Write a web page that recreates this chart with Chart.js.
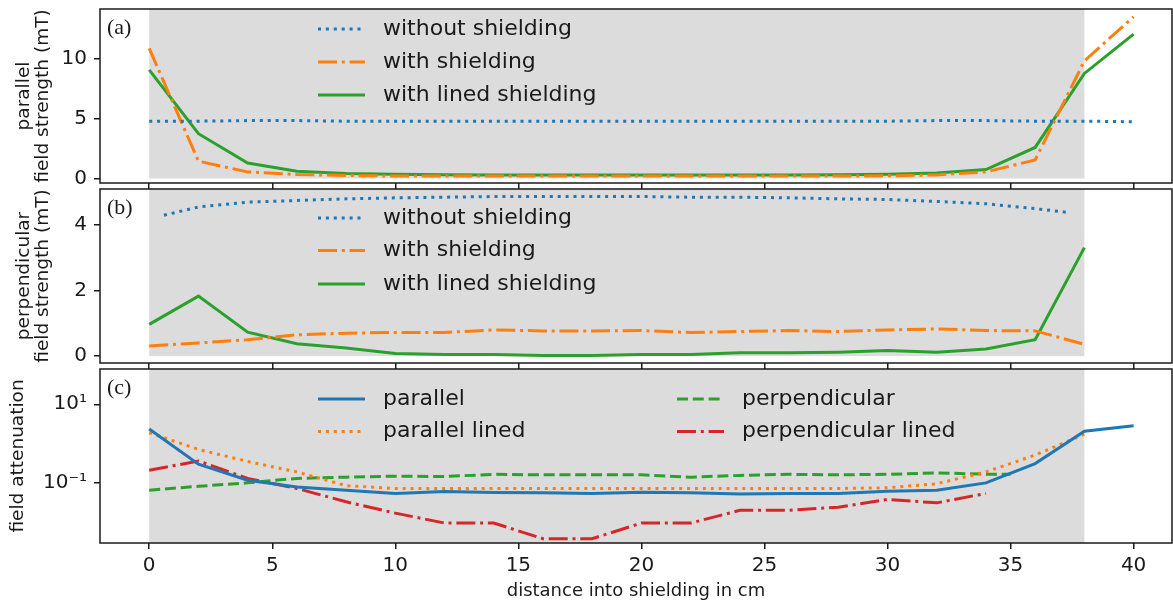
<!DOCTYPE html>
<html>
<head>
<meta charset="utf-8">
<script src="https://cdn.jsdelivr.net/npm/chart.js@4"></script>
<style>
body { margin: 0; background: #fff; }
#wrap { position: relative; width: 1173px; height: 606px; }
canvas { position: absolute; left: 0; }
</style>
</head>
<body>
<div id="wrap">
  <canvas id="panelA" width="1173" height="190" style="top:0px"></canvas>
  <canvas id="panelB" width="1173" height="190" style="top:180px"></canvas>
  <canvas id="panelC" width="1173" height="246" style="top:360px"></canvas>
</div>
<script>
// distance into shielding (cm)
const xEven = [0, 2, 4, 6, 8, 10, 12, 14, 16, 18, 20, 22, 24, 26, 28, 30, 32, 34, 36, 38, 40];
const xTo38 = [0, 2, 4, 6, 8, 10, 12, 14, 16, 18, 20, 22, 24, 26, 28, 30, 32, 34, 36, 38];
const xTo34 = [0, 2, 4, 6, 8, 10, 12, 14, 16, 18, 20, 22, 24, 26, 28, 30, 32, 34];
const xPerpNoShield = [0.6, 2, 4, 6, 8, 10, 12, 14, 16, 18, 20, 22, 24, 26, 28, 30, 32, 34, 36, 37.4];
const xPerpAtt = [0, 2, 4, 6, 8, 10, 12, 14, 16, 18, 20, 22, 24, 26, 28, 30, 32, 34, 35];
const xTicks = [0, 5, 10, 15, 20, 25, 30, 35, 40];

// (a) parallel field strength (mT)
const parWithout = [4.8, 4.8, 4.85, 4.85, 4.8, 4.8, 4.8, 4.8, 4.8, 4.8, 4.8, 4.8, 4.8, 4.8, 4.8, 4.8, 4.85, 4.85, 4.8, 4.8, 4.75];
const parWith = [10.9, 1.45, 0.55, 0.33, 0.25, 0.2, 0.2, 0.2, 0.2, 0.2, 0.2, 0.2, 0.2, 0.2, 0.2, 0.22, 0.3, 0.55, 1.55, 9.85, 13.55];
const parLined = [9.1, 3.75, 1.3, 0.6, 0.42, 0.35, 0.32, 0.3, 0.3, 0.3, 0.3, 0.3, 0.3, 0.3, 0.32, 0.35, 0.45, 0.75, 2.6, 8.8, 12.1];

// (b) perpendicular field strength (mT)
const perpWithout = [4.3, 4.55, 4.7, 4.75, 4.8, 4.83, 4.85, 4.87, 4.87, 4.87, 4.87, 4.85, 4.85, 4.83, 4.8, 4.78, 4.72, 4.65, 4.5, 4.38];
const perpWith = [0.31, 0.4, 0.5, 0.65, 0.7, 0.72, 0.72, 0.8, 0.77, 0.77, 0.78, 0.72, 0.75, 0.78, 0.75, 0.8, 0.83, 0.78, 0.77, 0.36];
const perpLined = [0.97, 1.83, 0.73, 0.38, 0.25, 0.08, 0.05, 0.05, 0.02, 0.02, 0.05, 0.05, 0.1, 0.1, 0.12, 0.17, 0.12, 0.22, 0.5, 3.31];

// (c) field attenuation
const attPar = [2.35, 0.3, 0.117, 0.079, 0.065, 0.054, 0.06, 0.057, 0.056, 0.054, 0.058, 0.056, 0.052, 0.054, 0.054, 0.061, 0.065, 0.1, 0.31, 2.05, 2.85];
const attParLined = [1.89, 0.71, 0.35, 0.19, 0.085, 0.072, 0.072, 0.072, 0.072, 0.072, 0.072, 0.072, 0.072, 0.072, 0.072, 0.075, 0.095, 0.19, 0.51, 1.74];
const attPerp = [0.065, 0.082, 0.1, 0.13, 0.14, 0.148, 0.145, 0.165, 0.16, 0.16, 0.16, 0.14, 0.155, 0.165, 0.16, 0.165, 0.18, 0.166, 0.166];
const attPerpLined = [0.21, 0.36, 0.13, 0.072, 0.033, 0.017, 0.0095, 0.0095, 0.0038, 0.0038, 0.0095, 0.0095, 0.02, 0.02, 0.024, 0.038, 0.031, 0.054];

const BLUE = '#1f77b4', ORANGE = '#ff7f0e', GREEN = '#2ca02c', RED = '#d62728';
const DOT = [3, 4.9], DASHDOT = [19, 4.8, 3, 4.8], DASH = [11, 4.8], SOLID = [];
const INK = '#1a1a1a';
const SANS = "'DejaVu Sans', sans-serif";

function pts(xs, ys) {
  return ys.map((y, i) => ({ x: xs[i], y: y }));
}

function line(label, xs, ys, color, dash) {
  return {
    label: label,
    data: pts(xs, ys),
    borderColor: color,
    borderWidth: 3,
    borderDash: dash,
    pointRadius: 0,
    tension: 0,
    fill: false
  };
}

// gray shielding band, frame, panel letter and legend
const panelDecor = {
  id: 'panelDecor',
  beforeDatasetsDraw(chart, args, opts) {
    const { ctx, chartArea, scales } = chart;
    const x0 = scales.x.getPixelForValue(0);
    const x1 = scales.x.getPixelForValue(38);
    const yb = opts.bandFrom === null ? chartArea.bottom : scales.y.getPixelForValue(opts.bandFrom);
    ctx.save();
    ctx.fillStyle = '#dcdcdc';
    ctx.fillRect(x0, chartArea.top, x1 - x0, yb - chartArea.top);
    ctx.restore();
  },
  afterDatasetsDraw(chart, args, opts) {
    const { ctx, chartArea } = chart;
    ctx.save();
    // legend
    ctx.font = '22px ' + SANS;
    ctx.textBaseline = 'middle';
    ctx.fillStyle = INK;
    chart.data.datasets.forEach((ds, i) => {
      const pos = opts.legend[i];
      const lx = pos[0], ly = chartArea.top + pos[1];
      ctx.beginPath();
      ctx.strokeStyle = ds.borderColor;
      ctx.lineWidth = 3;
      ctx.setLineDash(ds.borderDash);
      ctx.moveTo(lx, ly);
      ctx.lineTo(lx + 47, ly);
      ctx.stroke();
      ctx.fillText(ds.label, lx + 65, ly);
    });
    ctx.setLineDash([]);
    // frame
    ctx.strokeStyle = INK;
    ctx.lineWidth = 1.5;
    ctx.strokeRect(chartArea.left, chartArea.top, chartArea.right - chartArea.left, chartArea.bottom - chartArea.top);
    // panel letter
    ctx.font = "22px 'Liberation Serif', serif";
    ctx.fillStyle = INK;
    ctx.textBaseline = 'middle';
    ctx.fillText(opts.letter, chartArea.left + 7, chartArea.top + 19);
    ctx.restore();
  }
};

function makePanel(id, datasets, yScale, decor, showX) {
  const xScale = {
    type: 'linear',
    min: -2,
    max: 41.56,
    afterBuildTicks: s => { s.ticks = xTicks.map(v => ({ value: v })); },
    afterFit: s => { s.height = showX ? 63 : 7; s.paddingLeft = 0; s.paddingRight = 0; },
    grid: { drawOnChartArea: false, drawTicks: true, tickLength: 6, color: INK, lineWidth: 1.5 },
    border: { display: false },
    ticks: { display: showX, font: { family: SANS, size: 20 }, color: INK, padding: 5, maxRotation: 0 },
    title: {
      display: showX,
      text: 'distance into shielding in cm',
      font: { family: SANS, size: 18 },
      color: INK,
      padding: { top: 0, bottom: 4 }
    }
  };
  yScale.afterFit = s => { s.width = 100; s.paddingTop = 0; s.paddingBottom = 0; };
  yScale.grid = { drawOnChartArea: false, drawTicks: true, tickLength: 6, color: INK, lineWidth: 1.5 };
  yScale.border = { display: false };
  return new Chart(document.getElementById(id), {
    type: 'line',
    data: { datasets: datasets },
    options: {
      responsive: false,
      animation: false,
      layout: { padding: { top: 9, right: 1, left: 0, bottom: 0 } },
      scales: { x: xScale, y: yScale },
      plugins: {
        legend: { display: false },
        tooltip: { enabled: false },
        panelDecor: decor
      }
    },
    plugins: [panelDecor]
  });
}

const yTickFont = { family: SANS, size: 20 };
const yTitleFont = { family: SANS, size: 18.5, lineHeight: 1.05 };

makePanel('panelA', [
  line('without shielding', xEven, parWithout, BLUE, DOT),
  line('with shielding', xEven, parWith, ORANGE, DASHDOT),
  line('with lined shielding', xEven, parLined, GREEN, SOLID)
], {
  type: 'linear',
  min: -0.38,
  max: 14.2,
  afterBuildTicks: s => { s.ticks = [0, 5, 10].map(v => ({ value: v })); },
  ticks: { font: yTickFont, color: INK, padding: 7 },
  title: {
    display: true,
    text: ['parallel', 'field strength (mT)'],
    font: yTitleFont,
    color: INK,
    padding: { top: 14, bottom: 0 }
  }
}, { bandFrom: 0, letter: '(a)', legend: [[318, 20], [318, 53], [318, 86]] }, false);

makePanel('panelB', [
  line('without shielding', xPerpNoShield, perpWithout, BLUE, DOT),
  line('with shielding', xTo38, perpWith, ORANGE, DASHDOT),
  line('with lined shielding', xTo38, perpLined, GREEN, SOLID)
], {
  type: 'linear',
  min: -0.21,
  max: 5.1,
  afterBuildTicks: s => { s.ticks = [0, 2, 4].map(v => ({ value: v })); },
  ticks: { font: yTickFont, color: INK, padding: 7 },
  title: {
    display: true,
    text: ['perpendicular', 'field strength (mT)'],
    font: yTitleFont,
    color: INK,
    padding: { top: 14, bottom: 0 }
  }
}, { bandFrom: 0, letter: '(b)', legend: [[318, 29], [318, 61.5], [318, 95]] }, false);

makePanel('panelC', [
  line('parallel', xEven, attPar, BLUE, SOLID),
  line('parallel lined', xTo38, attParLined, ORANGE, DOT),
  line('perpendicular', xPerpAtt, attPerp, GREEN, DASH),
  line('perpendicular lined', xTo34, attPerpLined, RED, DASHDOT)
], {
  type: 'logarithmic',
  min: 0.00295,
  max: 79,
  afterBuildTicks: s => { s.ticks = [0.1, 10].map(v => ({ value: v })); },
  ticks: {
    font: yTickFont,
    color: INK,
    padding: 7,
    callback: v => (v === 10 ? '10\u00b9' : '10\u207b\u00b9')
  },
  title: {
    display: true,
    text: 'field attenuation',
    font: yTitleFont,
    color: INK,
    padding: { top: 8, bottom: 0 }
  }
}, { bandFrom: null, letter: '(c)', legend: [[318, 30], [318, 62.5], [677, 30], [677, 62.5]] }, true);
</script>
</body>
</html>
